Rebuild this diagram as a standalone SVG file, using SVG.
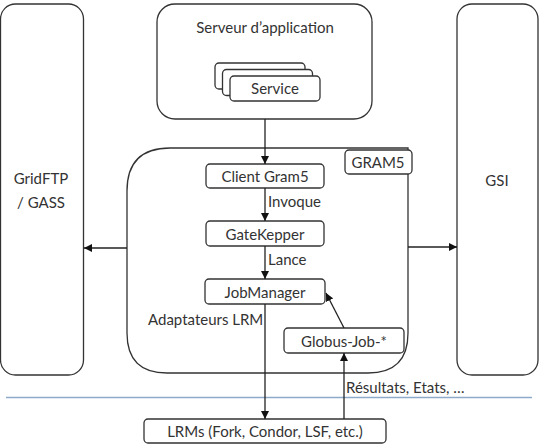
<svg xmlns="http://www.w3.org/2000/svg" width="540" height="445" viewBox="0 0 540 445">
<style>
.box{fill:#fff;stroke:#333;stroke-width:1.3}
.t{font-family:Lato,"Liberation Sans",sans-serif;font-size:15px;fill:#333;text-anchor:middle;dominant-baseline:central}
.l{font-family:Lato,"Liberation Sans",sans-serif;font-size:15px;fill:#333;dominant-baseline:central}
.c{stroke:#222;stroke-width:1.3;fill:none;marker-end:url(#ah)}
</style>
<defs>
<marker id="ah" viewBox="0 0 10 10" refX="10" refY="5" markerWidth="8" markerHeight="8" markerUnits="userSpaceOnUse" orient="auto">
<path d="M0,0 L10,5 L0,10 z" fill="#111"/>
</marker>
</defs>
<line x1="6" y1="397.5" x2="532" y2="397.5" stroke="#8eaacb" stroke-width="1.5"/>
<g id="gridftp">
<rect class="box" x="0.5" y="4" width="83" height="371" rx="15"/>
<text class="t" x="41" y="178">GridFTP</text>
<text class="t" x="41" y="202">/ GASS</text>
</g>
<g id="gsi">
<rect class="box" x="457" y="4" width="81" height="371" rx="15"/>
<text class="t" x="497" y="180">GSI</text>
</g>
<g id="serveur">
<rect class="box" x="157" y="4" width="215" height="115" rx="18"/>
<text class="t" x="265" y="27">Serveur d’application</text>
</g>
<g id="service">
<rect class="box" x="215" y="63" width="90" height="26" rx="4"/>
<rect class="box" x="222.5" y="69.5" width="90" height="26" rx="4"/>
<rect class="box" x="230" y="76" width="90" height="25" rx="4"/>
<text class="t" x="275" y="88">Service</text>
</g>
<g id="gram5">
<path class="box" d="M127,191 Q127,148 170,148 L408,148 L408,333 Q408,373 368,373 L167,373 Q127,373 127,333 Z"/>
</g>
<g id="gram5-label">
<rect class="box" x="345" y="150" width="67" height="24" rx="4"/>
<text class="t" x="378" y="162">GRAM5</text>
</g>
<g id="client">
<rect class="box" x="206" y="164" width="118" height="24" rx="4"/>
<text class="t" x="265" y="176">Client Gram5</text>
</g>
<g id="gatekepper">
<rect class="box" x="206" y="221" width="118" height="25" rx="4"/>
<text class="t" x="265" y="233.5">GateKepper</text>
</g>
<g id="jobmanager">
<rect class="box" x="205" y="279" width="120" height="25" rx="4"/>
<text class="t" x="265" y="291.5">JobManager</text>
</g>
<g id="globusjob">
<rect class="box" x="284" y="328" width="120" height="25" rx="4"/>
<text class="t" x="344" y="340.5">Globus-Job-*</text>
</g>
<g id="lrms">
<rect class="box" x="144" y="419" width="242" height="24" rx="4"/>
<text class="t" x="265" y="431">LRMs (Fork, Condor, LSF, etc.)</text>
</g>
<g id="connectors">
<line class="c" x1="265" y1="119" x2="265" y2="164"/>
<line class="c" x1="265" y1="188" x2="265" y2="221"/>
<line class="c" x1="265" y1="246" x2="265" y2="279"/>
<line class="c" x1="265" y1="304" x2="265" y2="419"/>
<line class="c" x1="344" y1="328" x2="326" y2="293"/>
<line class="c" x1="344" y1="419" x2="344" y2="353"/>
<line class="c" x1="127" y1="248" x2="84" y2="248"/>
<line class="c" x1="408" y1="247" x2="457" y2="247"/>
<text class="l" x="268" y="201">Invoque</text>
<text class="l" x="268" y="259">Lance</text>
<text class="l" x="148" y="319">Adaptateurs LRM</text>
<text class="l" x="346" y="387">Résultats, Etats, …</text>
</g>
</svg>
